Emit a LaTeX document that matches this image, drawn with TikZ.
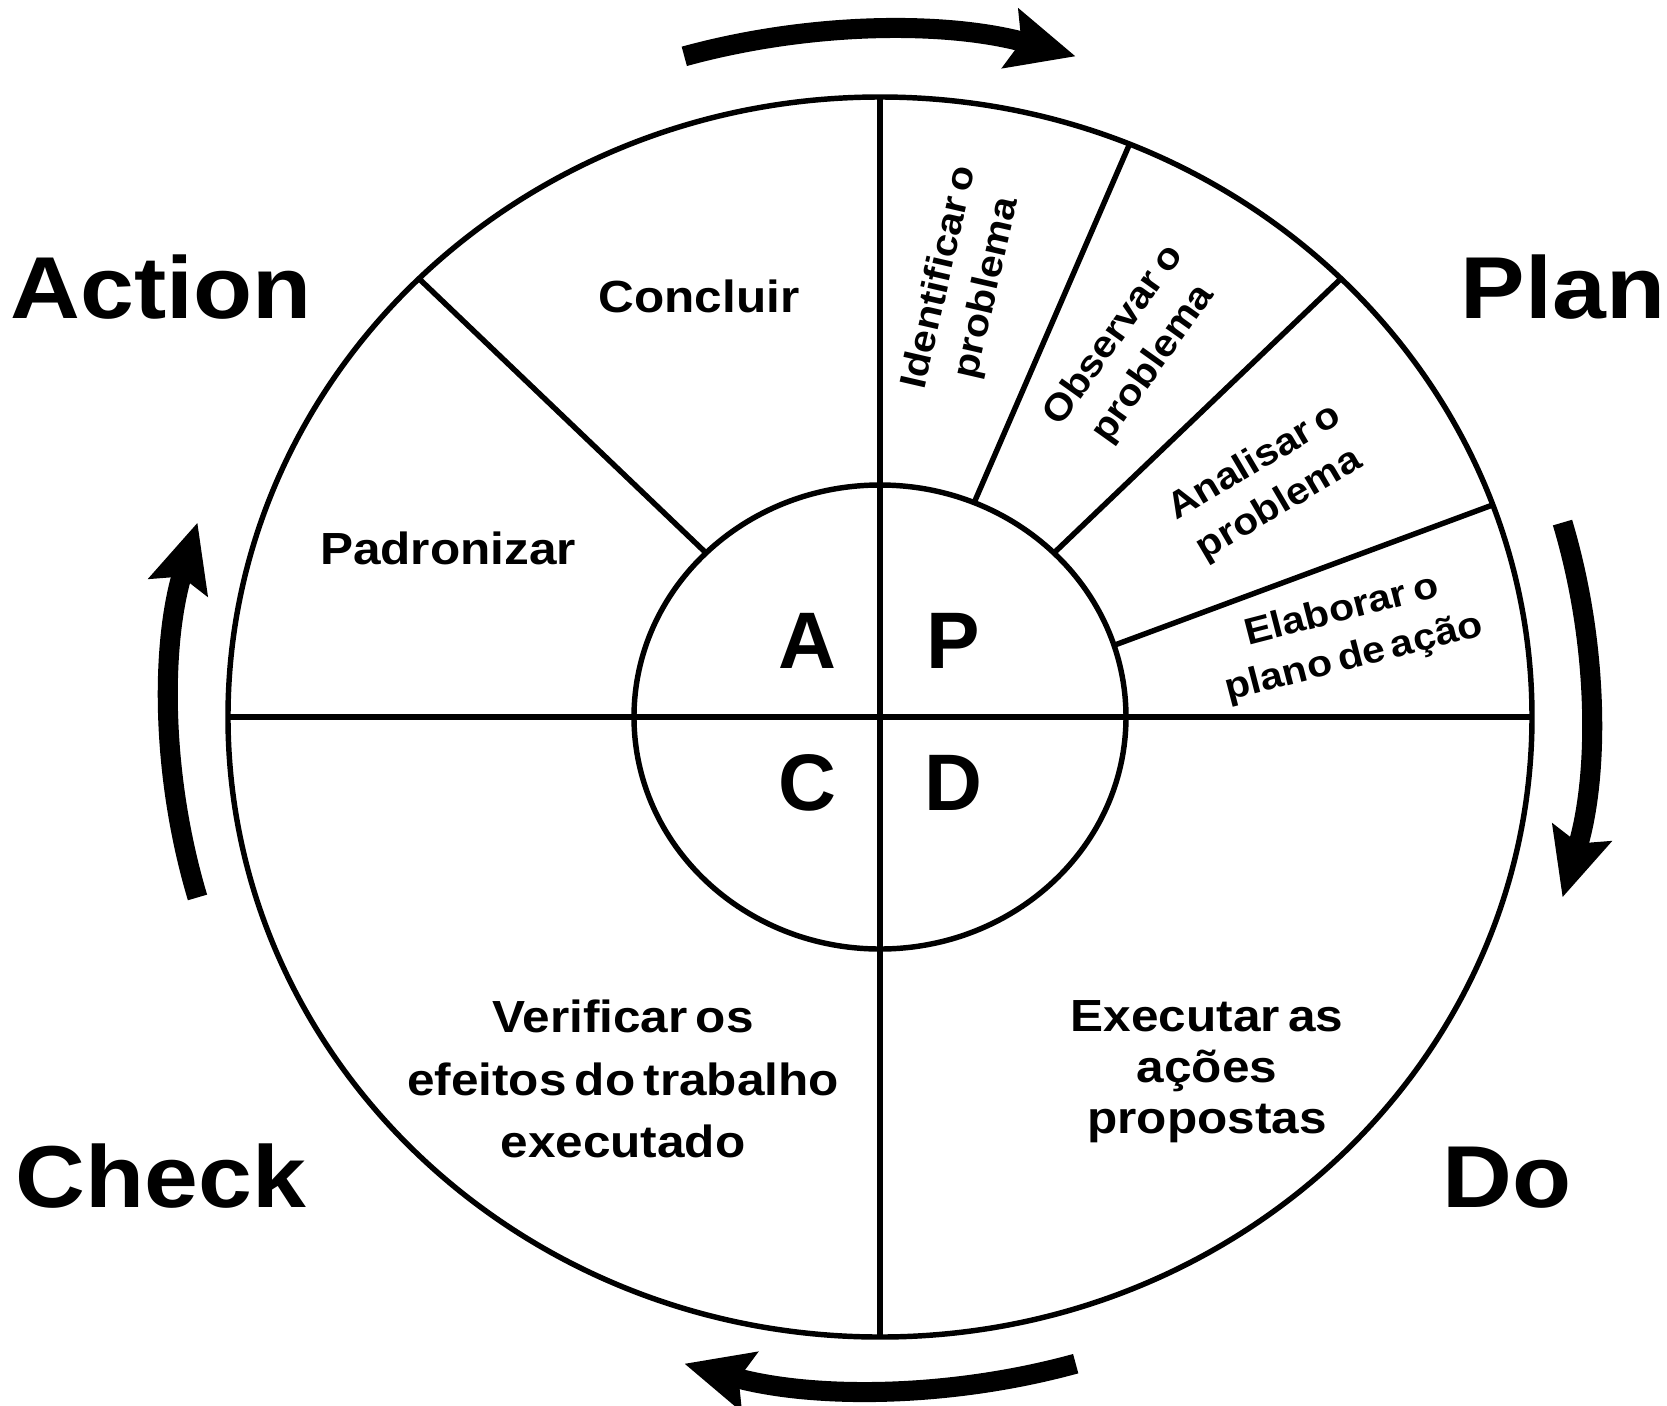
\documentclass[tikz,border=0pt]{standalone}
\usepackage{fontspec}
\setmainfont{Liberation Sans}[FakeStretch=1.1,WordSpace=0.6]
\newfontfamily\letterfont{Liberation Sans}
\usetikzlibrary{arrows.meta}
\tikzset{wheel line/.style={draw,line width=1.55pt},
            turn arrow/.style={line width=5.7pt,-{Stealth[length=19pt,width=17pt,inset=3pt]}},
            phase name/.style={font=\fontsize{25}{30}\selectfont\bfseries,anchor=base,inner sep=0pt},
            cycle letter/.style={font=\letterfont\fontsize{22.8}{27}\selectfont\bfseries,anchor=base,inner sep=0pt},
            step text/.style={font=\fontsize{12.8}{17.8}\selectfont\bfseries,align=center,inner sep=0pt},
            wedge text/.style={font=\fontsize{10.6}{13.8}\selectfont\bfseries,align=center,inner sep=0pt},
            }
\begin{document}
\begin{tikzpicture}[x=0.01cm,y=0.01cm]
				\useasboundingbox (-880,-688) rectangle (787,717);
				
				\draw[wheel line] (0,0) ellipse [x radius=652,y radius=620];
				\draw[wheel line] (0,0) ellipse [x radius=246,y radius=232];
				\draw[wheel line] (0,620) -- (0,-620);
				\draw[wheel line] (-652,0) -- (652,0);
				\foreach \a in {135,67.5,45}
					\draw[wheel line] (\a:246 and 232) -- (\a:652 and 620);
				\draw[wheel line] (18:246 and 232) -- (20:652 and 620);
				
				\foreach \c [evaluate=\c as \s using \c+16, evaluate=\c as \e using \c-16] in {90,0,-90,180}
					\draw[turn arrow] (0,7) ++(\s:710 and 680) arc[start angle=\s,end angle=\e,x radius=710,y radius=680];
				
				\node[phase name] (action) at (-719,399) {Action};
				\node[phase name] (plan) at (683,399) {Plan};
				\node[phase name] (check) at (-719,-490) {Check};
				\node[phase name] (do) at (627,-490) {Do};
				
				\node[cycle letter] (A) at (-73,49) {A};
				\node[cycle letter] (P) at (73,49) {P};
				\node[cycle letter] (C) at (-73,-93) {C};
				\node[cycle letter] (D) at (73,-93) {D};
				
				\node[step text,anchor=base] (concluir) at (-181,405) {Concluir};
				\node[step text,anchor=base] (padronizar) at (-432,153) {Padronizar};
				\node[step text] (verificar) at (-257,-362) {Verificar os\\efeitos do trabalho\\executado};
				\node[step text,font=\fontsize{12.8}{14.5}\selectfont\bfseries] (executar) at (327,-355) {Executar as\\ações\\propostas};
				
				\node[wedge text,rotate=77] (identificar) at (84,434) {Identificar o\\problema};
				\node[wedge text,rotate=54.5] (observar) at (254,367) {Observar o\\problema};
				\node[wedge text,rotate=30.5] (analisar) at (387,233) {Analisar o\\problema};
				\node[wedge text,rotate=14.5] (elaborar) at (468,82) {Elaborar o\\plano de ação};
			\end{tikzpicture}
\end{document}
